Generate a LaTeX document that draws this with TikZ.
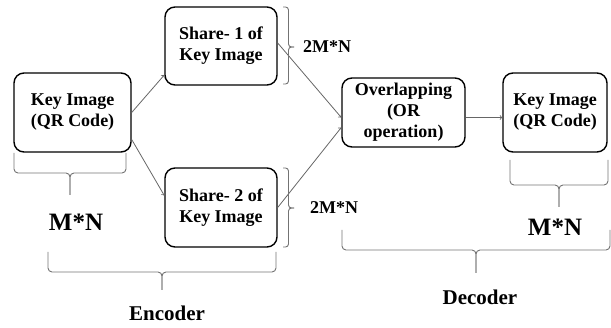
\documentclass[tikz,border=0pt]{standalone}
\usepackage{fontspec}
\setmainfont{Liberation Serif}
\usetikzlibrary{calc}
\begin{document}
\begin{tikzpicture}[x=1pt,y=-1pt,
  box/.style={draw=black,line width=1.4pt,rounded corners=10pt,align=center,
    font=\fontsize{18}{21}\selectfont\bfseries,inner sep=0pt},
  conn/.style={draw=black!60,line width=0.8pt,->,>=to},
  brc/.style={draw=black!55,line width=0.9pt,rounded corners=4pt},
  lbl/.style={font=\fontsize{18}{21}\selectfont\bfseries,inner sep=0pt},
  big/.style={font=\fontsize{25}{28}\selectfont\bfseries,inner sep=0pt},
  sec/.style={font=\fontsize{21}{24}\selectfont\bfseries,inner sep=0pt}]
\useasboundingbox (0,0) rectangle (611,328);
\node[box,minimum width=117pt,minimum height=79pt] (k1) at (72.5,112.5) {Key Image\\(QR Code)};
\node[box,minimum width=112pt,minimum height=78pt] (s1) at (221,46) {Share- 1 of\\Key Image};
\node[box,minimum width=112pt,minimum height=79pt] (s2) at (221,207.5) {Share- 2 of\\Key Image};
\node[box,minimum width=123pt,minimum height=69pt] (ov) at (403.5,112.5) {Overlapping\\(OR\\operation)};
\node[box,minimum width=104pt,minimum height=79pt] (k2) at (555,112.5) {Key Image\\(QR Code)};
% connectors
\coordinate (ovout) at ([yshift=-5pt]ov.east);
\draw[conn] (k1.east) -- ([yshift=-29pt]s1.west);
\draw[conn] ([yshift=-27pt]k1.east) -- ([yshift=12pt]s2.west);
\draw[conn] ([yshift=3pt]s1.east) -- ([yshift=-5pt]ov.west);
\draw[conn] (s2.east) -- ([yshift=-15pt]ov.west);
\draw[conn] (ovout) -- (k2.west |- ovout);
% labels
\node[lbl] (t1) at (327,47) {2M*N};
\node[lbl] (t2) at (334,208) {2M*N};
\node[big] (m1) at (76,222) {M*N};
\node[big] (m2) at (555,227) {M*N};
\node[sec] (enc) at (167,313) {Encoder};
\node[sec] (dec) at (480,297) {Decoder};
% vertical braces
\draw[brc,rounded corners=3pt] (283,7) -- (288.5,7) -- (288.5,47) -- (294,47);
\draw[brc,rounded corners=3pt] (283,84) -- (288.5,84) -- (288.5,47) -- (294,47);
\draw[brc,rounded corners=3pt] (283,168) -- (288.5,168) -- (288.5,208) -- (294,208);
\draw[brc,rounded corners=3pt] (283,247) -- (288.5,247) -- (288.5,208) -- (294,208);
% horizontal braces
\draw[brc] (14,153) -- (14,173) -- (70,173) -- (70,195);
\draw[brc] (126,153) -- (126,173) -- (70,173) -- (70,195);
\draw[brc] (48,252) -- (48,272) -- (162,272) -- (162,290);
\draw[brc] (276,252) -- (276,272) -- (162,272) -- (162,290);
\draw[brc] (510,160) -- (510,185) -- (559,185) -- (559,207);
\draw[brc] (608,160) -- (608,185) -- (559,185) -- (559,207);
\draw[brc] (342,230) -- (342,250) -- (476,250) -- (476,273);
\draw[brc] (610,230) -- (610,250) -- (476,250) -- (476,273);
\end{tikzpicture}
\end{document}
